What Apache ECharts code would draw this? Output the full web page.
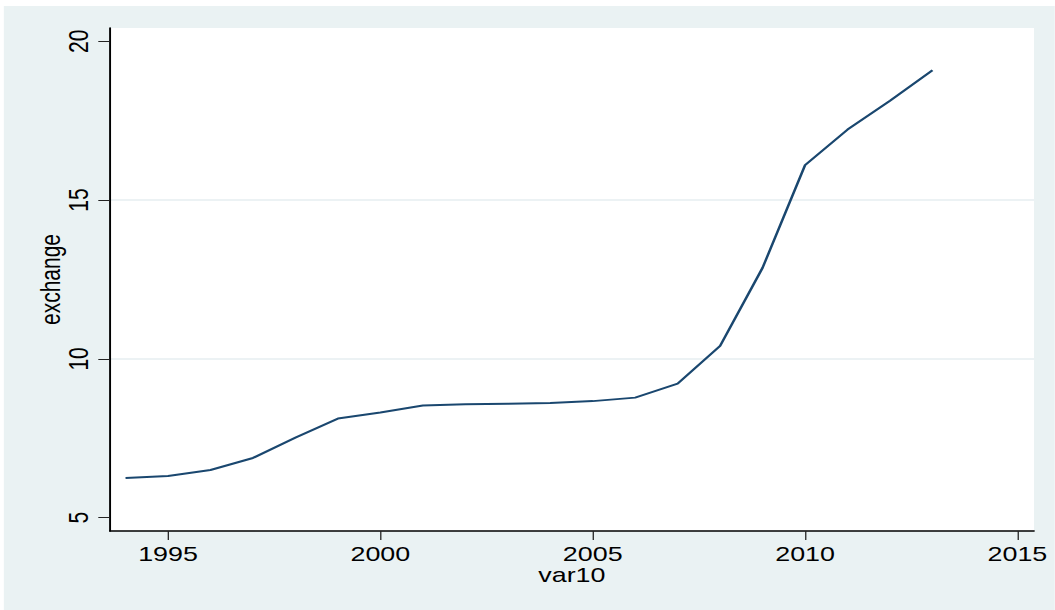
<!DOCTYPE html>
<html>
<head>
<meta charset="utf-8">
<script src="https://cdn.jsdelivr.net/npm/echarts@6/dist/echarts.min.js"></script>
<style>
  html, body { margin: 0; padding: 0; background: #fff; }
  /* the reference is a Stata graph stretched sideways, so draw narrow and stretch */
  #stage { position: absolute; left: 0; top: 0; width: 824.2px; height: 610px; transform: scaleX(1.28); transform-origin: 0 0; }
  #chart { position: absolute; left: 3.1px; top: 6px; width: 821.1px; height: 604px; background: #eaf2f3; }
</style>
</head>
<body>
<div id="stage"><div id="chart"></div></div>
<script>
const years = [1994, 1995, 1996, 1997, 1998, 1999, 2000, 2001, 2002, 2003,
               2004, 2005, 2006, 2007, 2008, 2009, 2010, 2011, 2012, 2013];
const exchange = [6.25, 6.31, 6.50, 6.88, 7.52, 8.12, 8.31, 8.53, 8.57, 8.59,
                  8.61, 8.67, 8.78, 9.22, 10.41, 12.87, 16.10, 17.22, 18.13, 19.09];
const xTicks = [1995, 2000, 2005, 2010, 2015];
const yTicks = [5, 10, 15, 20];

const font = '"Liberation Sans", Arial, sans-serif';
const myChart = echarts.init(document.getElementById('chart'), null, { renderer: 'svg' });

const option = {
  animation: false,
  grid: {
    left: 82.8, top: 22, width: 722, height: 503,
    show: true, backgroundColor: '#fff', borderWidth: 0,
    containLabel: false, outerBoundsMode: 'none'
  },
  xAxis: {
    type: 'value',
    min: 1993.63, max: 2015.39,
    name: 'var10', nameLocation: 'middle', nameGap: 33, nameMoveOverlap: false,
    nameTextStyle: { fontFamily: font, fontSize: 21, color: '#000' },
    axisLine: { show: true, onZero: false, lineStyle: { color: '#000', width: 1.5 } },
    axisTick: { show: true, length: 9, customValues: xTicks, lineStyle: { color: '#222', width: 1 } },
    axisLabel: {
      customValues: xTicks, margin: 12, fontFamily: font, fontSize: 21, color: '#000',
      formatter: v => String(v)
    },
    splitLine: { show: false }
  },
  yAxis: {
    type: 'value',
    min: 4.58, max: 20.42, splitNumber: 3,
    name: 'exchange', nameLocation: 'middle', nameGap: 36, nameMoveOverlap: false,
    nameTextStyle: { fontFamily: font, fontSize: 21, color: '#000' },
    axisLine: { show: true, onZero: false, lineStyle: { color: '#000', width: 1.5 } },
    axisTick: { show: true, length: 9, customValues: yTicks, lineStyle: { color: '#222', width: 1 } },
    axisLabel: {
      customValues: yTicks, rotate: 90, margin: 14, fontFamily: font, fontSize: 21, color: '#000',
      formatter: v => String(v)
    },
    splitLine: { show: true, showMinLine: false, showMaxLine: false, lineStyle: { color: '#e6eef0', width: 1.5 } }
  },
  series: [{
    name: 'exchange',
    type: 'line',
    showSymbol: false,
    lineStyle: { color: '#1a476f', width: 2 },
    data: years.map((y, i) => [y, exchange[i]])
  }]
};
myChart.setOption(option);
</script>
</body>
</html>
